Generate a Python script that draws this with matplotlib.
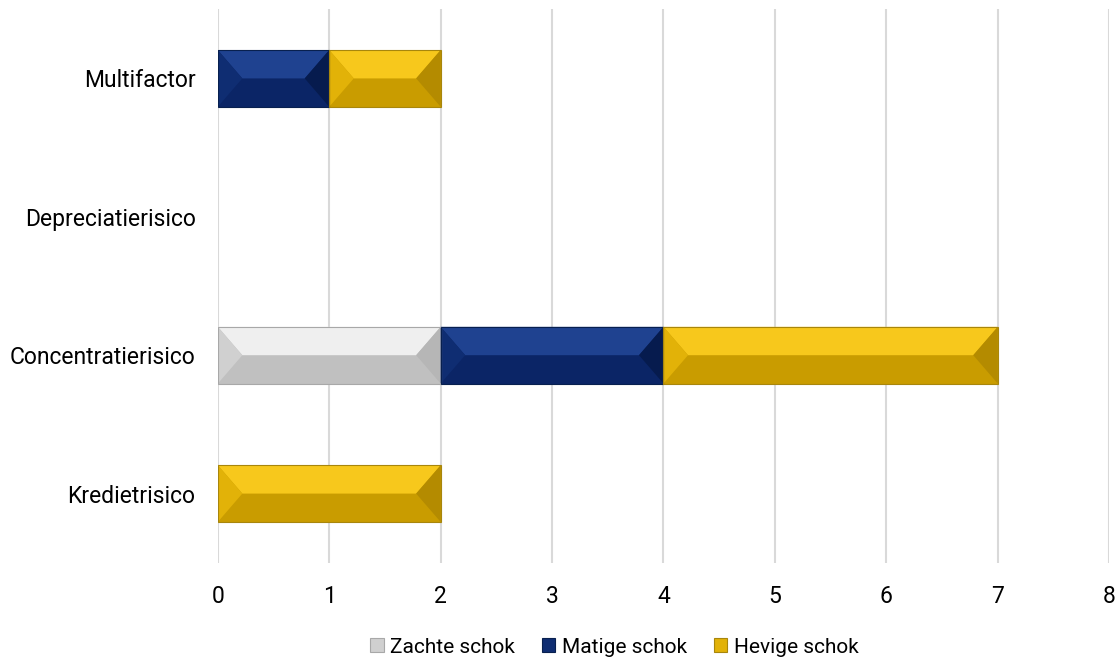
import numpy as np
import matplotlib
matplotlib.use('agg')
import matplotlib.pyplot as plt
from matplotlib.patches import Polygon, Patch

plt.rcParams['font.family'] = ['Roboto', 'DejaVu Sans']

# Data
categories = ['Kredietrisico', 'Concentratierisico', 'Depreciatierisico', 'Multifactor']
zachte = [0, 2, 0, 0]
matige = [0, 2, 0, 1]
hevige = [2, 3, 0, 1]
series_names = ['Zachte schok', 'Matige schok', 'Hevige schok']

# colours: (face/bottom, top, left, right)
styles = {
    'Zachte schok': ('#c0c0c0', '#efefef', '#d0d0d0', '#b6b6b6'),
    'Matige schok': ('#0b2566', '#1f4290', '#0f2d72', '#061b4e'),
    'Hevige schok': ('#c99c00', '#f7c81c', '#e2b208', '#b48b00'),
}
edges = {'Zachte schok': '#a8a8a8', 'Matige schok': '#08204f', 'Hevige schok': '#a8860c'}


def bevel(ax, bars, cols, edge, d=0.22):
    face, top, left, right = cols
    for b in bars:
        x0, y0, w, h = b.get_x(), b.get_y(), b.get_width(), b.get_height()
        if w <= 0:
            continue
        x1, y1 = x0 + w, y0 + h
        ym = y0 + h * 0.5
        dd = min(d, w / 2.0)
        ax.add_patch(Polygon([(x0, y1), (x1, y1), (x1 - dd, ym), (x0 + dd, ym)],
                             closed=True, facecolor=top, edgecolor='none', zorder=3))
        ax.add_patch(Polygon([(x0, y1), (x0 + dd, ym), (x0, y0)],
                             closed=True, facecolor=left, edgecolor='none', zorder=3))
        ax.add_patch(Polygon([(x1, y1), (x1 - dd, ym), (x1, y0)],
                             closed=True, facecolor=right, edgecolor='none', zorder=3))
        ax.add_patch(Polygon([(x0, y0), (x1, y0), (x1, y1), (x0, y1)],
                             closed=True, facecolor='none', edgecolor=edge,
                             linewidth=0.8, zorder=4))


fig = plt.figure(figsize=(11.17, 6.59), dpi=100)
ax = fig.add_axes([0.195, 0.146, 0.798, 0.84])

pos = np.arange(len(categories))
left = np.zeros(len(categories))
for name, vals in zip(series_names, [zachte, matige, hevige]):
    vals = np.array(vals, dtype=float)
    bars = ax.barh(pos, vals, left=left, height=0.41, color=styles[name][0],
                   linewidth=0, zorder=2)
    bevel(ax, bars, styles[name], edges[name])
    left = left + vals

ax.set_xlim(0, 8)
ax.set_ylim(-0.5, 3.5)
ax.set_xticks(np.arange(0, 9, 1))
ax.set_yticks(pos)
ax.set_yticklabels(categories)
ax.grid(axis='x', color='#d9d9d9', linewidth=1.5, zorder=0)
ax.set_axisbelow(True)
for s in ax.spines.values():
    s.set_visible(False)
ax.tick_params(axis='both', length=0, labelsize=16.5, colors='#000000')
ax.tick_params(axis='x', pad=16)
ax.tick_params(axis='y', pad=16)

handles = [Patch(facecolor=styles[n][2], edgecolor=edges[n], linewidth=0.8) for n in series_names]
fig.legend(handles, series_names, loc='center', bbox_to_anchor=(0.55, 0.018), ncol=3,
           frameon=False, fontsize=15, handlelength=0.65, handleheight=0.65,
           handletextpad=0.3, columnspacing=1.3)

plt.savefig('out.png', dpi=100)
